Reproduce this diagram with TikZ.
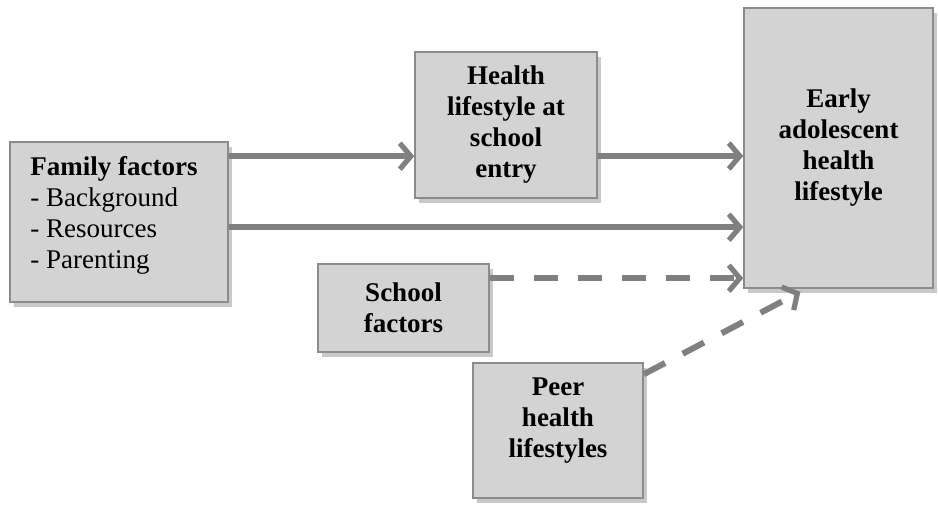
\documentclass[tikz,border=0pt]{standalone}
\usepackage{fontspec}
\setmainfont{Liberation Serif}
\usetikzlibrary{arrows.meta,calc,shadows}
\definecolor{boxfill}{HTML}{D3D3D3}
\definecolor{boxline}{HTML}{8C8C8C}
\definecolor{arrowgray}{HTML}{808080}
\tikzset{
  box/.style={draw=boxline, line width=0.8pt, fill=boxfill, inner sep=0pt,
    drop shadow={shadow xshift=2pt, shadow yshift=-2.5pt, opacity=0.35, fill=black!60},
    font=\fontsize{13.5}{15.5}\selectfont\bfseries, align=center},
  txt/.style={inner sep=0pt, font=\fontsize{13.5}{15.5}\selectfont},
  conn/.style={draw=arrowgray, line width=3pt,
    -{Straight Barb[length=5.5pt,width=13pt,line width=2.6pt]}},
  dashconn/.style={conn, dash pattern=on 12pt off 10pt},
}
\begin{document}
\begin{tikzpicture}[x=0.5pt,y=-0.5pt]
\useasboundingbox[fill=white] (0,0) rectangle (938,504);
\node[box, minimum width=109pt, minimum height=80pt] (family) at (119,222) {};
\node[txt, anchor=west, align=left] (familytext) at (30,215)
  {\textbf{Family factors}\\- Background\\- Resources\\- Parenting};
\node[box, minimum width=91pt, minimum height=73pt] (health) at (506,125)
  {Health\\lifestyle at\\school\\entry};
\node[box, minimum width=94.5pt, minimum height=140pt] (early) at (838.5,148)
  {Early\\adolescent\\health\\lifestyle};
\node[box, minimum width=85.5pt, minimum height=44pt] (school) at (403.5,308)
  {School\\factors};
\node[box, minimum width=85pt, minimum height=67.5pt] (peer) at (558,430.5) {};
\node[txt, font=\fontsize{13.5}{15.5}\selectfont\bfseries, align=center] (peertext) at (558,421)
  {Peer\\health\\lifestyles};
% connectors
\coordinate (f1) at ($(family.north east)+(0,15)$);
\coordinate (f2) at ($(family.north east)+(0,86)$);
\coordinate (s1) at ($(school.north east)+(0,15)$);
\coordinate (p1) at ($(peer.north east)+(0,12)$);
\coordinate (e1) at ($(early.south west)!0.3!(early.south east)+(0,3)$);
\draw[conn] (f1) -- (f1 -| health.west);
\draw[conn] (health.east |- 0,156) -- (early.west |- 0,156);
\draw[conn] (f2) -- (f2 -| early.west);
\draw[dashconn] (s1) -- (s1 -| early.west);
\draw[dashconn] (p1) -- (e1);
\end{tikzpicture}
\end{document}
